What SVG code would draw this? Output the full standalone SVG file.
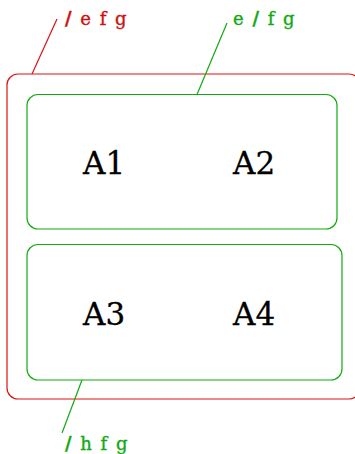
<svg xmlns="http://www.w3.org/2000/svg" width="355" height="454" viewBox="0 0 355 454">
  <style>
    .red { fill: none; stroke: #dd1111; stroke-width: 1.2; }
    .green { fill: none; stroke: #11aa11; stroke-width: 1.2; }
    .lbl { font-family: "DejaVu Serif", "Liberation Serif", serif; font-size: 18px; letter-spacing: 1.5px; stroke-width: 0.35; }
    .lr { fill: #cc1111; stroke: #cc1111; }
    .lg { fill: #11aa11; stroke: #11aa11; }
    .sl { font-weight: bold; }
    .big { font-family: "DejaVu Serif", "Liberation Serif", serif; font-size: 31px; fill: #000; stroke: #000; stroke-width: 0.3; }
  </style>
  <rect width="355" height="454" fill="#fff"/>
  <g id="outer">
    <rect class="red" x="7" y="74" width="353" height="325" rx="11"/>
  </g>
  <g id="top-group">
    <rect class="green" x="27" y="94.5" width="310" height="134.5" rx="11"/>
    <text class="big" x="83" y="174">A1</text>
    <text class="big" x="233" y="174">A2</text>
  </g>
  <g id="bottom-group">
    <rect class="green" x="27" y="244.5" width="315" height="135.5" rx="11"/>
    <text class="big" x="83" y="325">A3</text>
    <text class="big" x="233" y="325">A4</text>
  </g>
  <g id="connectors">
    <line class="red" x1="32" y1="74" x2="57" y2="19"/>
    <line class="green" x1="197" y1="94.5" x2="227" y2="23"/>
    <line class="green" x1="82" y1="380" x2="62" y2="433"/>
  </g>
  <g id="labels">
    <text class="lbl lr" x="65" y="25"><tspan class="sl">/</tspan> e f g</text>
    <text class="lbl lg" x="233" y="25">e <tspan class="sl">/</tspan> f g</text>
    <text class="lbl lg" x="65" y="450"><tspan class="sl">/</tspan> h f g</text>
  </g>
</svg>
